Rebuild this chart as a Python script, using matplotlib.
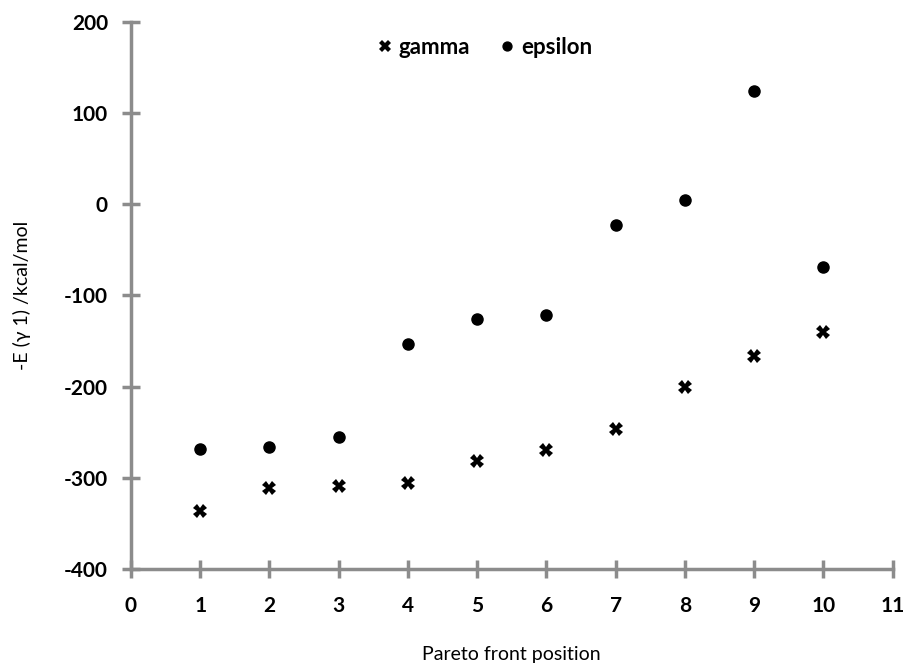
import matplotlib.pyplot as plt

# data
posicao = [1, 2, 3, 4, 5, 6, 7, 8, 9, 10]
gamma = [-337, -311, -309, -306, -282, -270, -247, -201, -166, -140]
epsilon = [-269, -266, -255, -153, -126, -122, -23, 5, 124, -69]

x_ticks = list(range(0, 12))
y_ticks = [-400, -300, -200, -100, 0, 100, 200]

plt.rcParams['font.family'] = ['Lato', 'DejaVu Sans']
plt.rcParams['axes.unicode_minus'] = False

fig = plt.figure(figsize=(9.09, 6.66), dpi=100)
ax = fig.add_axes([0.144, 0.146, 0.838, 0.821])

ax.plot(posicao, gamma, linestyle='none', marker='X', markersize=10,
        color='black', markeredgewidth=0, label='gamma')
ax.plot(posicao, epsilon, linestyle='none', marker='o', markersize=8,
        color='black', label='epsilon')

ax.set_xlim(0, 11)
ax.set_ylim(-400, 200)
ax.set_xticks(x_ticks)
ax.set_xticklabels([str(v) for v in x_ticks], fontweight='bold')
ax.set_yticks(y_ticks)
ax.set_yticklabels([str(v) for v in y_ticks], fontweight='bold')

cinza = '#8c8c8c'
for lado in ['top', 'right']:
    ax.spines[lado].set_visible(False)
for lado in ['left', 'bottom']:
    ax.spines[lado].set_color(cinza)
    ax.spines[lado].set_linewidth(2.5)

ax.tick_params(direction='inout', length=13, width=2.5, color=cinza,
               labelsize=15)
ax.tick_params(axis='y', pad=10)
ax.tick_params(axis='x', pad=13)

ax.set_xlabel('Pareto front position', fontsize=14, labelpad=22)
ax.set_ylabel('-E (γ 1) /kcal/mol', fontsize=14, labelpad=24)

ax.legend(loc='center', bbox_to_anchor=(0.462, 0.954), ncol=2, frameon=False,
          handletextpad=0.1, columnspacing=1.2, handlelength=1,
          prop={'weight': 'bold', 'size': 16}, markerscale=0.8)

fig.savefig('out.png', dpi=100)
